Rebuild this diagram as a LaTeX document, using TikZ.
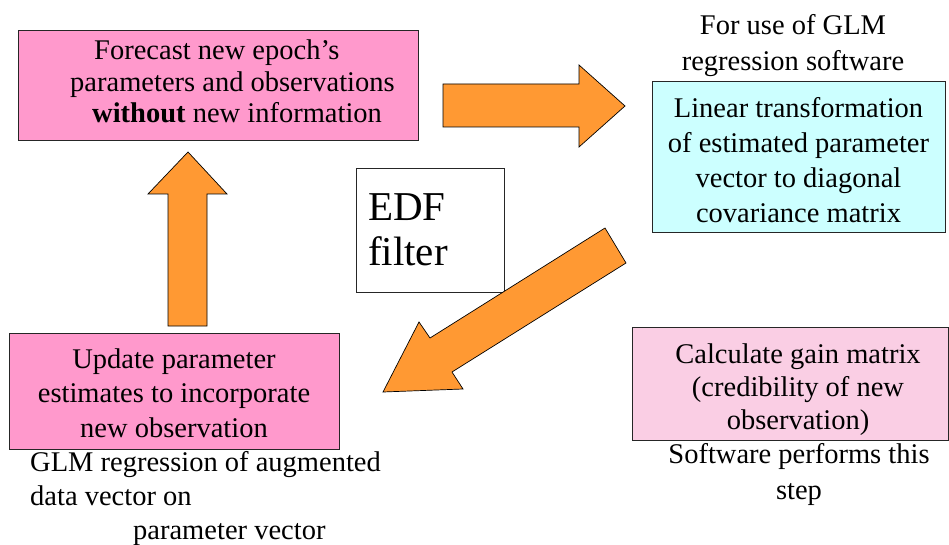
\documentclass[tikz,border=0pt]{standalone}
\usepackage{fontspec}
\setmainfont{LiberationSerif}[Extension=.ttf, UprightFont=*-Regular, BoldFont=*-Bold, ItalicFont=*-Italic, BoldItalicFont=*-BoldItalic]
\definecolor{boxpink}{HTML}{FF99CC}
\definecolor{boxcyan}{HTML}{CCFFFF}
\definecolor{palepink}{RGB}{250,206,228}
\definecolor{arroworange}{HTML}{FF9933}
\begin{document}
\begin{tikzpicture}[x=1pt,y=-1pt,
  every node/.style={font=\fontsize{28.5}{34}\selectfont},
  card/.style={draw=black!85, line width=0.8pt, inner sep=0pt, align=center},
  plain/.style={inner sep=0pt, align=center},
  blockarrow/.style={draw=black, line width=0.7pt, fill=arroworange, line join=miter}]
\useasboundingbox (0,0) rectangle (949,545);

% forecast step
\node[card, fill=boxpink, minimum width=400pt, minimum height=110pt] (forecast) at (218,85) {};
\node[plain, align=left, anchor=west, font=\fontsize{28.5}{31.5}\selectfont] (forecasttxt) at (70,81.5)
  {\hspace*{24pt}Forecast new epoch's\\parameters and observations\\\hspace*{22pt}\textbf{without} new information};

% linear transformation step
\node[plain, font=\fontsize{28.5}{36}\selectfont] (glmnote) at (793,46) {For use of GLM\\regression software};
\node[card, fill=boxcyan, minimum width=293pt, minimum height=151pt] (transform) at (798.5,156.5) {};
\node[plain, font=\fontsize{28.5}{35}\selectfont] (transformtxt) at (798.5,160)
  {Linear transformation\\of estimated parameter\\vector to diagonal\\covariance matrix};

% filter title
\node[card, fill=white, minimum width=148pt, minimum height=124pt, text width=124pt, inner xsep=12pt, align=left,
  font=\fontsize{41}{45}\selectfont] (edf) at (430,230) {EDF\\filter};

% gain step
\node[card, fill=palepink, minimum width=316pt, minimum height=113pt] (gain) at (790,383.5) {};
\node[plain, font=\fontsize{28.5}{33}\selectfont] (gaintxt) at (798,390) {Calculate gain matrix\\(credibility of new\\observation)};
\node[plain, font=\fontsize{28.5}{36}\selectfont] (softnote) at (799,474) {Software performs this\\step};

% update step
\node[card, fill=boxpink, minimum width=330pt, minimum height=116pt] (update) at (174,391) {};
\node[plain, font=\fontsize{28.5}{34.5}\selectfont] (updatetxt) at (174,393)
  {Update parameter\\estimates to incorporate\\new observation};
\node[plain, align=left, anchor=north west] (glmreg) at (30,451)
  {GLM regression of augmented\\data vector on\\\hspace*{103pt}parameter vector};

% block arrows of the cycle
\draw[blockarrow] (443,84) -- (579,84) -- (579,65) -- (625,106) -- (579,147) -- (579,127) -- (443,127) -- cycle;
\draw[blockarrow] (605,228) -- (626,263) -- (452,372) -- (463,389) -- (383,392) -- (419,322) -- (430,338) -- cycle;
\draw[blockarrow] (168,326) -- (168,194) -- (148,194) -- (188,152) -- (227,194) -- (207,194) -- (207,326) -- cycle;
\end{tikzpicture}
\end{document}
